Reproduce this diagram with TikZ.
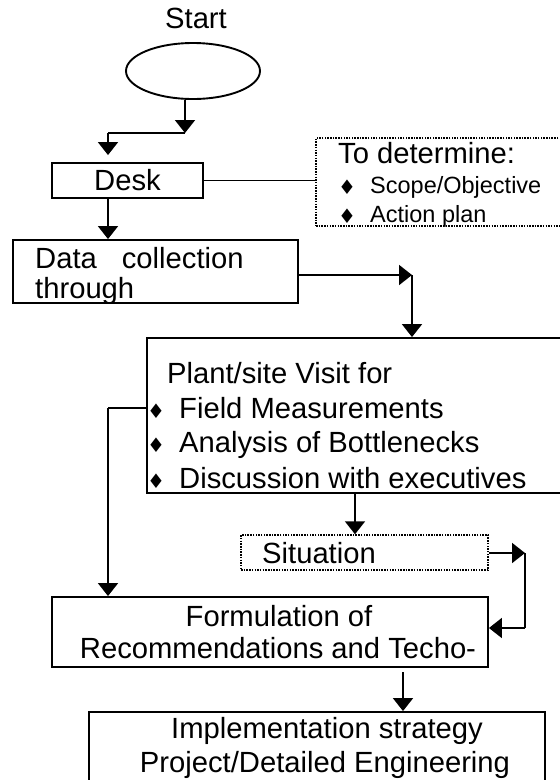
\documentclass[tikz,border=0pt]{standalone}
\usepackage{fontspec}
\setmainfont{Liberation Sans}
\newfontfamily\dejavu{DejaVu Sans}
\usetikzlibrary{arrows.meta,shapes.geometric,calc}

\tikzset{
  box/.style={draw, line width=1.9pt, inner sep=0pt},
  dotbox/.style={draw, line width=1.5pt, dash pattern=on 1.5pt off 1.2pt, inner sep=0pt},
  arr/.style={-{Triangle[width=20pt,length=13pt]}, line width=1.9pt},
  ln/.style={line width=1.9pt},
  txt/.style={font=\fontsize{29.2}{34}\selectfont, inner sep=0pt},
  smalltxt/.style={font=\fontsize{23.5}{28}\selectfont, inner sep=0pt},
  bul/.style={font=\dejavu\fontsize{20}{20}\selectfont, inner sep=0pt}
}

\begin{document}
\begin{tikzpicture}[x=1pt,y=-1pt]
        \clip (0,0) rectangle (560,780);
        \fill[white] (0,0) rectangle (560,780);
        % start
        \node[txt, anchor=base] (starttxt) at (196,28) {Start};
        \node[ellipse, draw, ln, minimum width=134pt, minimum height=56pt] (start) at (193,71) {};
        % boxes
        \node[box, txt, minimum width=151pt, minimum height=35pt] (desk) at (127.5,180.5) {Desk};
        \node[dotbox, minimum width=254pt, minimum height=88pt] (det) at (443,182) {};
        \node[box, minimum width=285pt, minimum height=63pt] (data) at (155.5,271.5) {};
        \node[box, minimum width=423pt, minimum height=155pt] (plant) at (358.5,415.5) {};
        \node[dotbox, minimum width=247pt, minimum height=35pt] (sit) at (364.5,552.5) {};
        \node[box, minimum width=436pt, minimum height=70pt] (form) at (270,632) {};
        \node[box, minimum width=456pt, minimum height=88pt] (impl) at (317,756) {};
        % texts
        \begin{scope}
          \clip (det.north west) rectangle (det.south east);
          \node[txt, anchor=base west] (dettxt) at (338,163) {To determine:};
          \node[bul] (db1) at (347,187) {♦};
          \node[smalltxt, anchor=base west] (dt1) at (370,193) {Scope/Objective};
          \node[bul] (db2) at (347,216) {♦};
          \node[smalltxt, anchor=base west] (dt2) at (370,222) {Action plan};
        \end{scope}
        \begin{scope}
          \clip (data.north west) rectangle (data.south east);
          \node[txt, anchor=base west] (datatxt) at (35,268) {Data\hspace{25pt}collection};
          \node[txt, anchor=base west] (datatxt2) at (35,298) {through};
        \end{scope}
        \node[txt, anchor=base west] (planttxt) at (167,383) {Plant/site Visit for};
        \foreach \y/\t in {418/Field Measurements,452/Analysis of Bottlenecks,488/Discussion with executives}{
          \node[bul] (pb\y) at (156,{\y-7}) {♦};
          \node[txt, anchor=base west] (pt\y) at (179,\y) {\t};
        }
        \node[txt, anchor=base west] (sittxt) at (262,563) {Situation};
        \node[txt, anchor=base] (formtxt) at (279,626) {Formulation of};
        \node[txt, anchor=base] (formtxt2) at (278,658) {Recommendations and Techo-};
        \node[txt, anchor=base] (impltxt) at (327,738) {Implementation strategy};
        \node[txt, anchor=base] (impltxt2) at (325,772) {Project/Detailed Engineering};
        % connectors
        \coordinate (j1) at (185,133);
        \coordinate (j2) at (108,133);
        \draw[arr] (start.south -| j1) -- (j1);
        \draw[ln] (j1) -- (j2);
        \draw[arr, shorten >=7pt] (j2) -- (j2 |- desk.north);
        \draw[ln] (desk.east) -- (desk.east -| det.west);
        \draw[arr] (desk.south -| j2) -- (data.north -| j2);
        \coordinate (j3) at (412,275);
        \draw[arr] (data.east |- j3) -- (j3);
        \draw[arr] (j3) -- (j3 |- plant.north);
        \coordinate (j4) at (108,408);
        \draw[ln] (plant.west |- j4) -- (j4);
        \draw[arr] (j4) -- (j4 |- form.north);
        \coordinate (j5) at (355,533);
        \draw[arr] (plant.south -| j5) -- (j5 |- sit.north);
        \coordinate (j6) at (525,553);
        \coordinate (j7) at (525,628);
        \draw[arr] (sit.east |- j6) -- (j6);
        \draw[ln] (j6) -- (j7);
        \draw[arr] (j7) -- (j7 -| form.east);
        \coordinate (j8) at (403,672);
        \draw[arr] (j8) -- (j8 |- impl.north);
    \end{tikzpicture}
\end{document}
